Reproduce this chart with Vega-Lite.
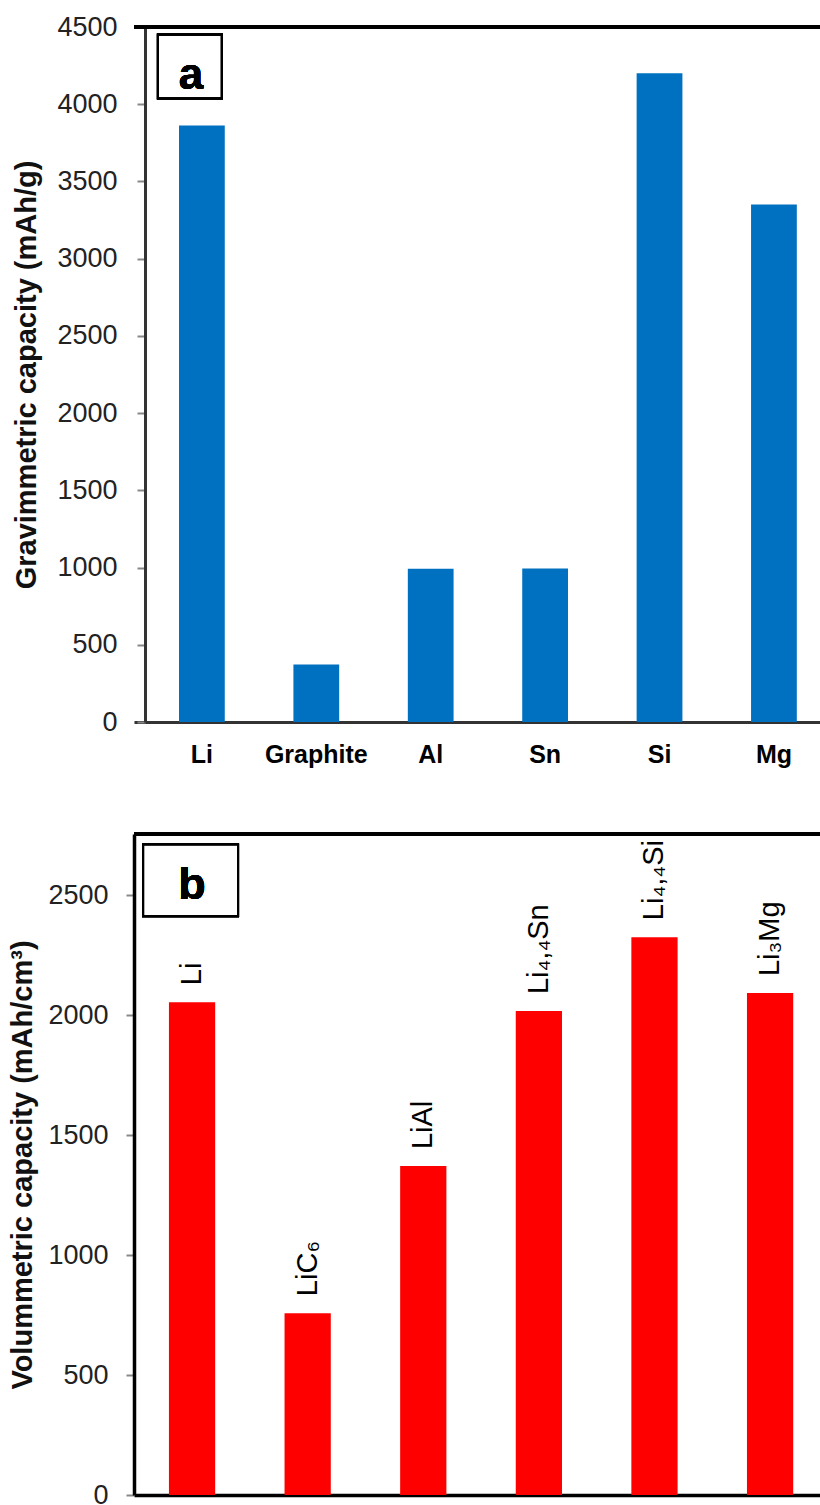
{
  "$schema": "https://vega.github.io/schema/vega-lite/v6.json",
  "background": "white",
  "padding": {"left": 8, "top": 13, "right": 0, "bottom": 0},
  "spacing": 65,
  "config": {
    "view": {"stroke": null},
    "font": "Liberation Sans",
    "axis": {"grid": false}
  },
  "vconcat": [
    {
      "width": 686,
      "height": 695,
      "data": {
        "values": [
          {"material": "Li", "capacity": 3862},
          {"material": "Graphite", "capacity": 372},
          {"material": "Al", "capacity": 993},
          {"material": "Sn", "capacity": 994},
          {"material": "Si", "capacity": 4200},
          {"material": "Mg", "capacity": 3350}
        ]
      },
      "layer": [
        {
          "mark": {"type": "bar", "color": "#0070C0"},
          "encoding": {
            "x": {
              "field": "material",
              "type": "nominal",
              "sort": null,
              "scale": {"paddingInner": 0.6, "paddingOuter": 0.298, "align": 0.66},
              "axis": {
                "title": null,
                "labelAngle": 0,
                "labelFontWeight": "bold",
                "labelFontSize": 25,
                "labelColor": "#000",
                "ticks": false,
                "tickSize": 0,
                "labelPadding": 20,
                "domainColor": "#333",
                "domainWidth": 3
              }
            },
            "y": {
              "field": "capacity",
              "type": "quantitative",
              "scale": {"domain": [0, 4500], "nice": false},
              "axis": {
                "title": "Gravimmetric capacity (mAh/g)",
                "values": [0, 500, 1000, 1500, 2000, 2500, 3000, 3500, 4000, 4500],
                "format": "d",
                "offset": -11,
                "tickSize": 8,
                "tickColor": "#888",
                "tickWidth": 2,
                "labelPadding": 20,
                "labelFontSize": 27,
                "labelColor": "#222",
                "domainColor": "#333",
                "domainWidth": 3,
                "titleFontSize": 29,
                "titleFontWeight": "bold",
                "titleColor": "#111",
                "titlePadding": 15
              }
            }
          }
        },
        {
          "mark": {"type": "rule", "color": "#000", "strokeWidth": 3.5},
          "encoding": {"y": {"datum": 4500}}
        },
        {
          "mark": {"type": "point", "shape": "square", "filled": false, "stroke": "#000", "strokeWidth": 2, "opacity": 1, "size": 4096, "xOffset": -12},
          "encoding": {"x": {"datum": "Li"}, "y": {"datum": 4244}}
        },
        {
          "mark": {"type": "text", "text": "a", "fontSize": 44, "fontWeight": "bold", "baseline": "alphabetic", "align": "center", "color": "#000", "xOffset": -11},
          "encoding": {"x": {"datum": "Li"}, "y": {"datum": 4099}}
        }
      ]
    },
    {
      "width": 686,
      "height": 661,
      "data": {
        "values": [
          {"phase": "Li", "capacity": 2054},
          {"phase": "LiC₆", "capacity": 758},
          {"phase": "LiAl", "capacity": 1371},
          {"phase": "Li₄,₄Sn", "capacity": 2017},
          {"phase": "Li₄,₄Si", "capacity": 2325},
          {"phase": "Li₃Mg", "capacity": 2092}
        ]
      },
      "encoding": {
        "x": {
          "field": "phase",
          "type": "nominal",
          "sort": null,
          "scale": {"paddingInner": 0.6, "paddingOuter": 0.267, "align": 0.566},
          "axis": {
            "title": null,
            "labels": false,
            "ticks": false,
            "tickSize": 0,
            "domainColor": "#000",
            "domainWidth": 3.5
          }
        },
        "y": {
          "field": "capacity",
          "type": "quantitative",
          "scale": {"domain": [0, 2755], "nice": false},
          "axis": {
            "title": "Volummetric capacity (mAh/cm³)",
            "values": [0, 500, 1000, 1500, 2000, 2500],
            "format": "d",
            "tickSize": 8,
            "tickColor": "#888",
            "tickWidth": 2,
            "labelPadding": 18,
            "labelFontSize": 27,
            "labelColor": "#222",
            "domainColor": "#000",
            "domainWidth": 3.5,
            "titleFontSize": 29,
            "titleFontWeight": "bold",
            "titleColor": "#111",
            "titlePadding": 10
          }
        }
      },
      "layer": [
        {"mark": {"type": "bar", "color": "#FF0000"}},
        {
          "mark": {"type": "text", "angle": 270, "align": "left", "baseline": "middle", "dx": 17, "fontSize": 29, "color": "#000"},
          "encoding": {"text": {"field": "phase"}}
        },
        {
          "mark": {"type": "rule", "color": "#000", "strokeWidth": 3.5},
          "encoding": {"y": {"datum": 2755}, "x": null}
        },
        {
          "mark": {"type": "point", "shape": "M-1,-0.758H1V0.758H-1Z", "filled": false, "stroke": "#000", "strokeWidth": 2, "opacity": 1, "size": 9025, "xOffset": -1.5},
          "encoding": {"x": {"datum": "Li"}, "y": {"datum": 2562}}
        },
        {
          "mark": {"type": "text", "text": "b", "fontSize": 45, "fontWeight": "bold", "baseline": "alphabetic", "align": "center", "color": "#000", "xOffset": 0},
          "encoding": {"x": {"datum": "Li"}, "y": {"datum": 2483}}
        }
      ]
    }
  ]
}
